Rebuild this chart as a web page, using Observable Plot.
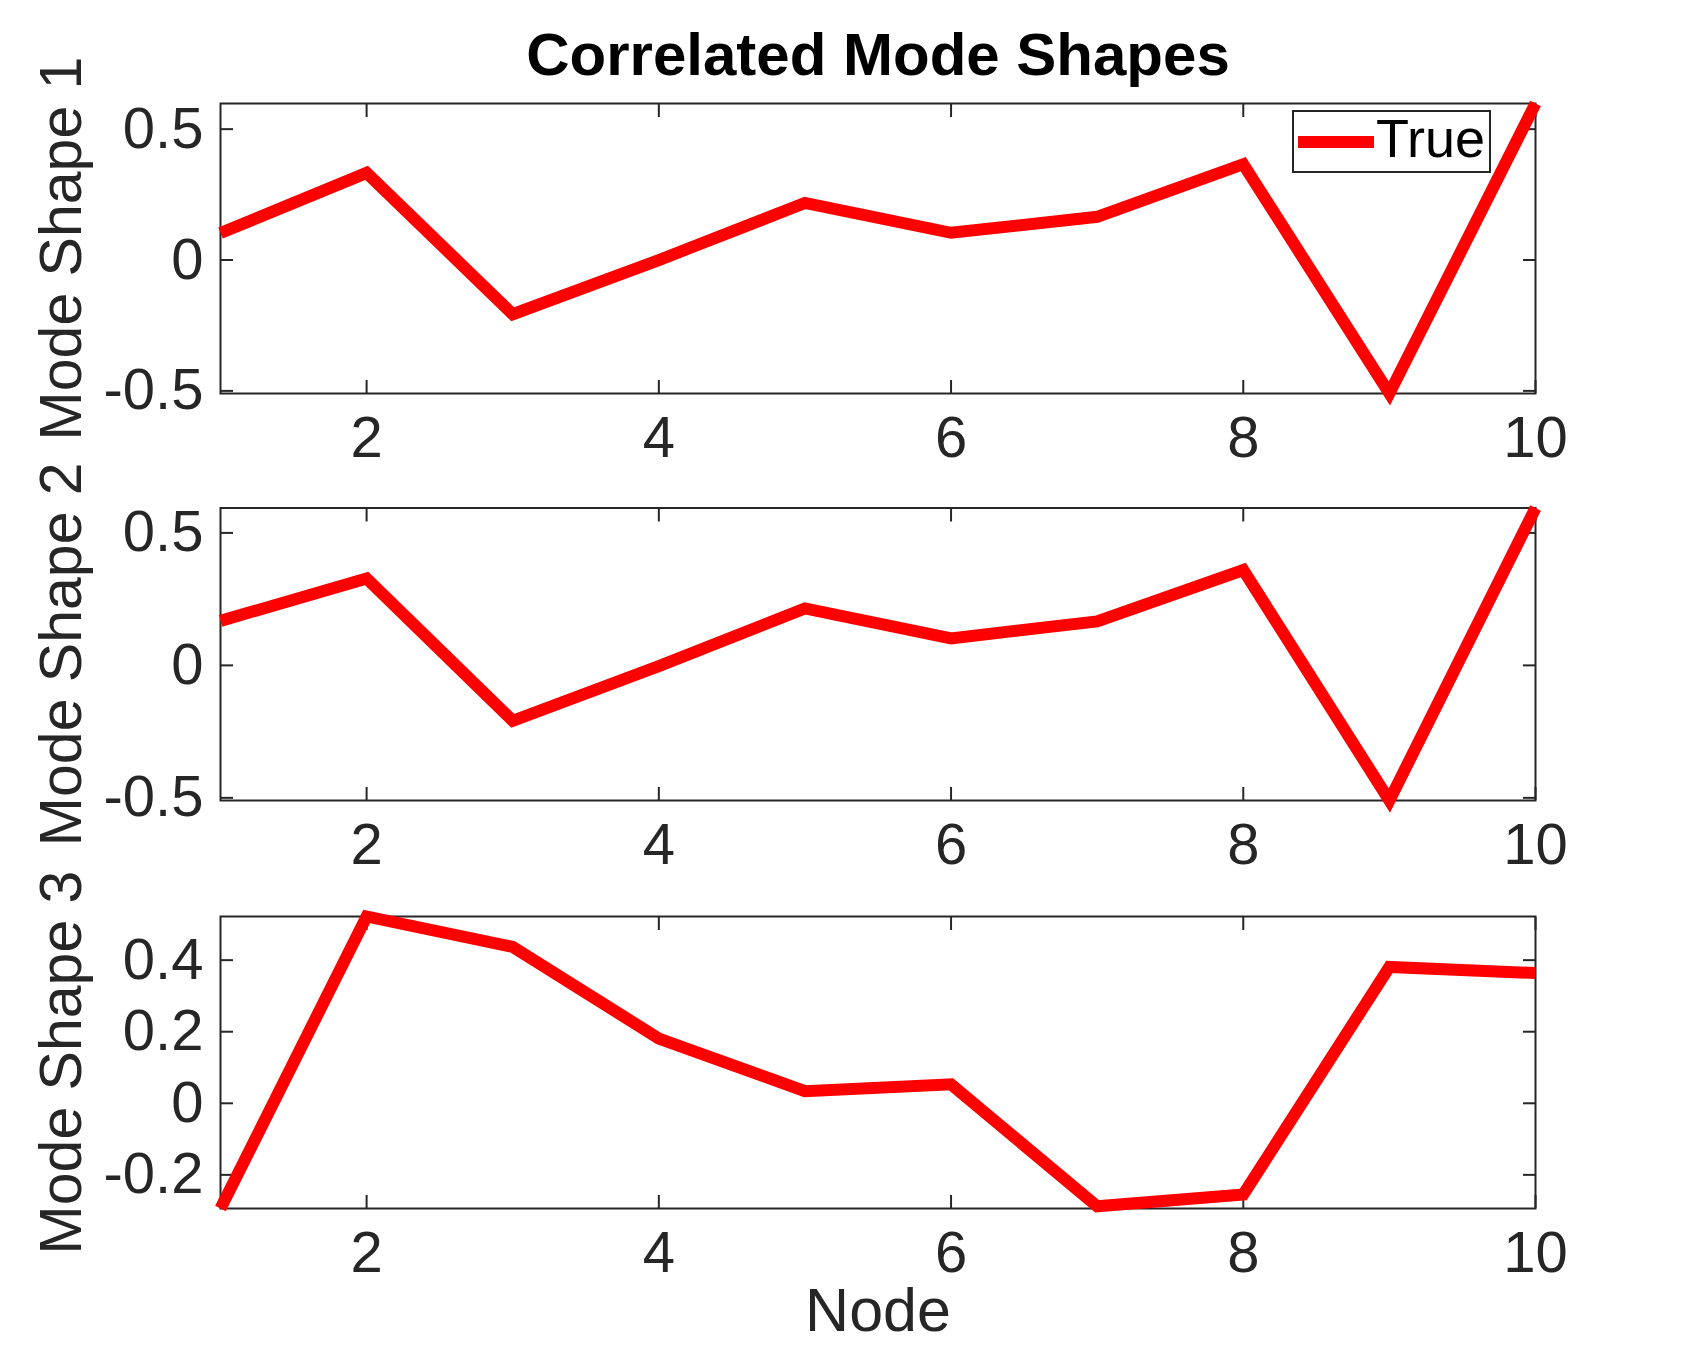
<!DOCTYPE html>
<html>
<head>
<meta charset="utf-8">
<script src="https://cdn.jsdelivr.net/npm/d3@7"></script>
<script src="https://cdn.jsdelivr.net/npm/@observablehq/plot@0.6"></script>
<style>
  html, body { margin: 0; padding: 0; background: #ffffff; }
  #chart { position: relative; width: 1696px; height: 1359px; overflow: hidden;
           font-family: "Liberation Sans", Arial, Helvetica, sans-serif; }
  #chart > .panel { position: absolute; left: 0; }
  #chart svg { overflow: visible; }
  .legend { position: absolute; left: 1292px; top: 110px; width: 195px; height: 59px;
            border: 2px solid #262626; background: #ffffff; box-sizing: content-box; }
  .legend .swatch { position: absolute; left: 4px; top: 24px; width: 76px; height: 12px; background: #ff0000; }
  .legend .name { position: absolute; left: 82px; top: -9px; font-size: 54px; line-height: 70px; color: #000000; }
</style>
</head>
<body>
<div id="chart"></div>
<script>
// Node numbers along the structure
const nodes = [1, 2, 3, 4, 5, 6, 7, 8, 9, 10];

// Correlated mode shape amplitudes at each node
const mode1 = [0.103, 0.333, -0.207, 0.0, 0.218, 0.104, 0.165, 0.366, -0.51, 0.598];
const mode2 = [0.168, 0.328, -0.209, -0.003, 0.215, 0.102, 0.166, 0.36, -0.51, 0.594];
const mode3 = [-0.294, 0.522, 0.437, 0.181, 0.034, 0.053, -0.288, -0.255, 0.381, 0.364];

// Tick values
const xTicks = [2, 4, 6, 8, 10];
const yTicks12 = [-0.5, 0, 0.5];
const yTicks3 = [-0.2, 0, 0.2, 0.4];

const seriesName = "True";
const titleText = "Correlated Mode Shapes";
const xLabel = "Node";
const yLabels = ["Mode Shape 1", "Mode Shape 2", "Mode Shape 3"];

const axisColor = "#262626";
const fontFamily = '"Liberation Sans", Arial, Helvetica, sans-serif';
const tickFont = 58;
const labelFont = 59;
const W = 1696;
const frameLeft = 220, frameRight = 1535;

function panel({values, yTicks, top, height, marginTop, marginBottom, ylabel, extra = []}) {
  const data = nodes.map((n, i) => ({node: n, value: values[i]}));
  const fig = Plot.plot({
    width: W,
    height,
    marginLeft: frameLeft,
    marginRight: W - frameRight,
    marginTop,
    marginBottom,
    x: {domain: [1, 10]},
    y: {domain: d3.extent(values)},
    style: {fontFamily, fontSize: tickFont + "px", color: axisColor, background: "transparent", overflow: "visible"},
    marks: [
      Plot.frame({stroke: axisColor, strokeWidth: 2}),
      // inward ticks on all four sides
      Plot.axisX({ticks: xTicks, anchor: "bottom", tickSize: -13, fill: "none", stroke: axisColor, strokeWidth: 2, label: null}),
      Plot.axisX({ticks: xTicks, anchor: "top", tickSize: -13, fill: "none", stroke: axisColor, strokeWidth: 2, label: null}),
      Plot.axisY({ticks: yTicks, anchor: "left", tickSize: -13, fill: "none", stroke: axisColor, strokeWidth: 2, label: null}),
      Plot.axisY({ticks: yTicks, anchor: "right", tickSize: -13, fill: "none", stroke: axisColor, strokeWidth: 2, label: null}),
      // tick labels
      Plot.axisX({ticks: xTicks, anchor: "bottom", tickSize: 0, tickPadding: 22, fill: axisColor, label: null,
                  tickFormat: d => String(d), fontSize: tickFont}),
      Plot.axisY({ticks: yTicks, anchor: "left", tickSize: 0, tickPadding: 17, fill: axisColor, label: null,
                  tickFormat: d => String(d), fontSize: tickFont}),
      // y axis label
      Plot.text([ylabel], {frameAnchor: "left", text: d => d, rotate: -90, dx: -158, fill: axisColor,
                           fontSize: labelFont, textAnchor: "middle", lineAnchor: "middle"}),
      Plot.line(data, {x: "node", y: "value", stroke: "#ff0000", strokeWidth: 12,
                       strokeLinejoin: "miter", strokeLinecap: "butt", strokeMiterlimit: 10}),
      ...extra
    ]
  });
  const holder = document.createElement("div");
  holder.className = "panel";
  holder.style.top = top + "px";
  holder.appendChild(fig);
  return holder;
}

const chart = document.getElementById("chart");

chart.appendChild(panel({
  values: mode1, yTicks: yTicks12, top: 0, height: 470, marginTop: 103, marginBottom: 77,
  ylabel: yLabels[0],
  extra: [
    Plot.text([titleText], {frameAnchor: "top", text: d => d, dy: -48, fill: "#000000",
                            fontSize: 60, fontWeight: "bold", lineAnchor: "middle"})
  ]
}));

chart.appendChild(panel({
  values: mode2, yTicks: yTicks12, top: 420, height: 460, marginTop: 87.5, marginBottom: 80,
  ylabel: yLabels[1]
}));

chart.appendChild(panel({
  values: mode3, yTicks: yTicks3, top: 840, height: 440, marginTop: 76, marginBottom: 72,
  ylabel: yLabels[2],
  extra: [
    Plot.text([xLabel], {frameAnchor: "bottom", text: d => d, dy: 103, fill: axisColor,
                         fontSize: 61, lineAnchor: "middle"})
  ]
}));

// legend box in the upper-right corner of the first panel
const legend = document.createElement("div");
legend.className = "legend";
legend.innerHTML = `<div class="swatch"></div><div class="name">${seriesName}</div>`;
chart.appendChild(legend);
</script>
</body>
</html>
